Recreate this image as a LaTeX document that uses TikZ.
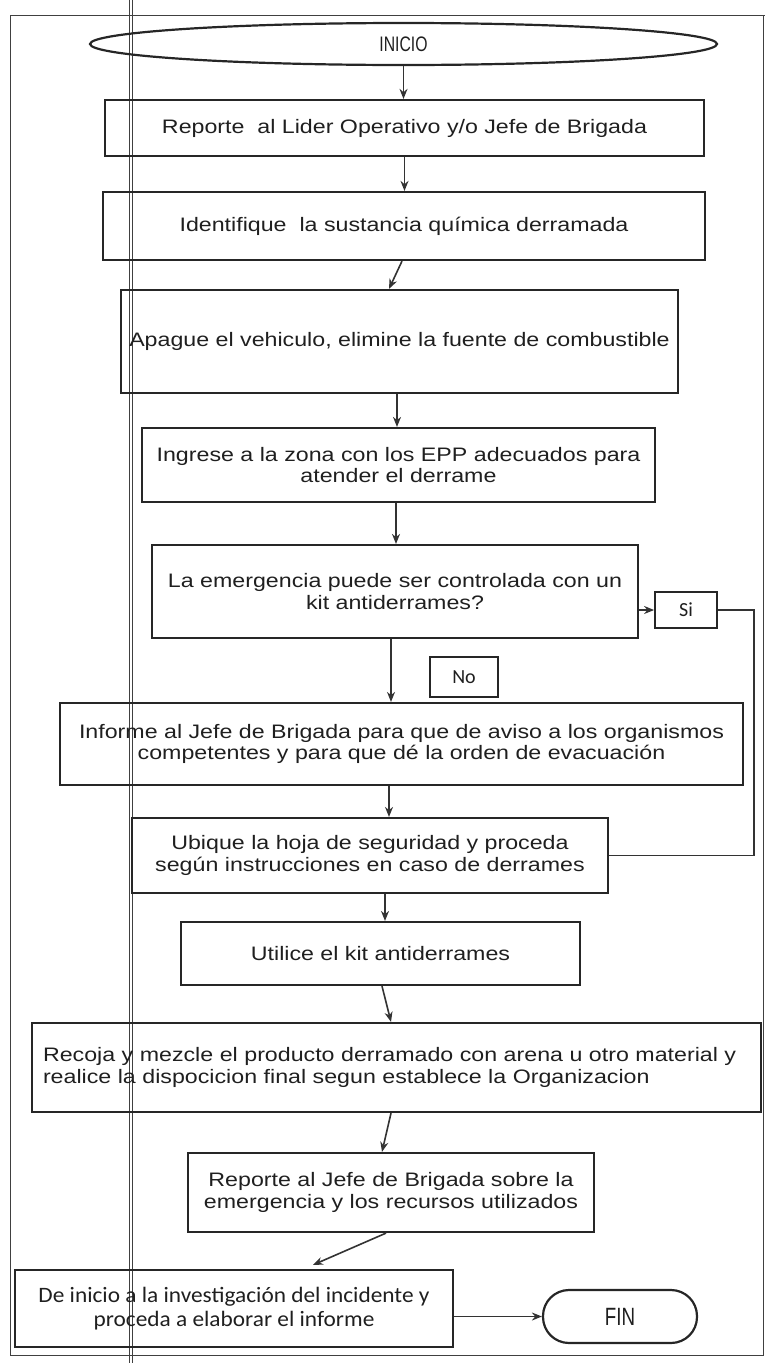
\documentclass[tikz,border=0pt]{standalone}
\usepackage{fontspec}
\setmainfont{Liberation Sans}[FakeStretch=1.19]
\newfontfamily\calfont{Carlito}[FakeStretch=1.06]
\newfontfamily\tagfont{Carlito}
\newfontfamily\condfont{Liberation Sans}[FakeStretch=0.75]
\usetikzlibrary{shapes.geometric,arrows.meta,calc}
\begin{document}
\begin{tikzpicture}[x=1pt,y=-1pt,
  box/.style={draw=black!85, line width=2.2pt, inner sep=0pt, align=center,
    font=\fontsize{19.5}{21.5}\selectfont, text=black!88},
  term/.style={box, ellipse},
  tag/.style={box, line width=1.8pt, font=\tagfont\fontsize{20}{22}\selectfont},
  arr/.style={line width=1.6pt, draw=black!80, -{Stealth[length=10pt,width=8pt]}},
  plain/.style={line width=1.8pt, draw=black!80},
  frame/.style={line width=0.9pt, draw=black!75}]
\useasboundingbox (0,0) rectangle (767,1363);
% frame and column separator
\draw[frame] (10,15) -- (765,15);
\draw[frame] (10,15) -- (10,1355) -- (763,1355) -- (763,15);
\draw[frame] (129.5,0) -- (129.5,1363);
\draw[frame] (132.5,0) -- (132.5,1363);
% nodes
\node[term, minimum width=627pt, minimum height=42pt] (inicio) at (403.5,44) {\condfont\fontsize{21}{22}\selectfont INICIO};
\node[box, minimum width=599pt, minimum height=56pt] (rep1) at (404.5,128) {Reporte\ \ al Lider Operativo y/o Jefe de Brigada};
\node[box, minimum width=602pt, minimum height=68pt] (ident) at (404,226) {Identifique\ \ la sustancia química derramada};
\node[box, minimum width=557pt, minimum height=103pt] (apague) at (399.5,341.5) {Apague el vehiculo, elimine la fuente de combustible};
\node[box, minimum width=513pt, minimum height=74pt] (ingrese) at (398.5,465) {Ingrese a la zona con los EPP adecuados para\\atender el derrame};
\node[box, minimum width=486pt, minimum height=93pt] (emerg) at (395,591.5) {La emergencia puede ser controlada con un\\kit antiderrames?};
\node[tag, minimum width=62pt, minimum height=36pt] (si) at (686,610) {Si};
\node[tag, minimum width=68pt, minimum height=40pt] (no) at (464,677) {No};
\node[box, minimum width=683pt, minimum height=82pt] (informe) at (401.5,744) {Informe al Jefe de Brigada para que de aviso a los organismos\\competentes y para que dé la orden de evacuación};
\node[box, minimum width=476pt, minimum height=75pt] (ubique) at (370,855.5) {Ubique la hoja de seguridad y proceda\\según instrucciones en caso de derrames};
\node[box, minimum width=399pt, minimum height=63pt] (utilice) at (380.5,953.5) {Utilice el kit antiderrames};
\node[box, minimum width=729pt, minimum height=89pt, align=left, text width=707pt, inner xsep=11pt] (recoja) at (396.5,1067.5) {Recoja y mezcle el producto derramado con arena u otro material y\\realice la dispocicion final segun establece la Organizacion};
\node[box, minimum width=406pt, minimum height=79pt] (rep2) at (391,1192.5) {Reporte al Jefe de Brigada sobre la\\emergencia y los recursos utilizados};
\node[box, minimum width=438pt, minimum height=77pt, font=\calfont\fontsize{22}{24}\selectfont] (deinicio) at (234,1308.5) {De inicio a la investigación del incidente y\\proceda a elaborar el informe};
\node[box, rounded corners=26pt, minimum width=154pt, minimum height=53pt, font=\condfont\fontsize{25}{26}\selectfont] (fin) at (620,1316.5) {FIN};
% connectors
\draw[arr] (inicio.south) -- (inicio.south |- rep1.north);
\draw[arr] (rep1.south) -- (rep1.south |- ident.north);
\draw[arr] ($(ident.south)+(-2,0)$) -- ($(apague.north)+(-10.5,0)$);
\draw[arr] ($(apague.south)+(-2.5,0)$) -- ($(apague.south |- ingrese.north)+(-2.5,0)$);
\draw[arr] ($(ingrese.south)+(-2.5,0)$) -- ($(ingrese.south |- emerg.north)+(-2.5,0)$);
\draw[arr] (si.west -| emerg.east) -- (si.west);
\draw[plain] (si.east) -- ++(36,0) |- (ubique.east);
\draw[arr] ($(emerg.south)+(-4,0)$) -- ($(emerg.south |- informe.north)+(-4,0)$);
\draw[arr] ($(informe.south)+(-12.5,0)$) -- ($(informe.south |- ubique.north)+(-12.5,0)$);
\draw[arr] ($(ubique.south)+(15,0)$) -- ($(ubique.south |- utilice.north)+(15,0)$);
\draw[arr] ($(utilice.south)+(1.5,0)$) -- ($(recoja.north)+(-5.5,0)$);
\draw[arr] ($(recoja.south)+(-5.5,0)$) -- ($(rep2.north)+(-9,0)$);
\draw[arr] ($(rep2.south)+(-5,0)$) -- ($(deinicio.north)+(79,-4)$);
\draw[arr] (fin.west -| deinicio.east) -- (fin.west);
\end{tikzpicture}
\end{document}
